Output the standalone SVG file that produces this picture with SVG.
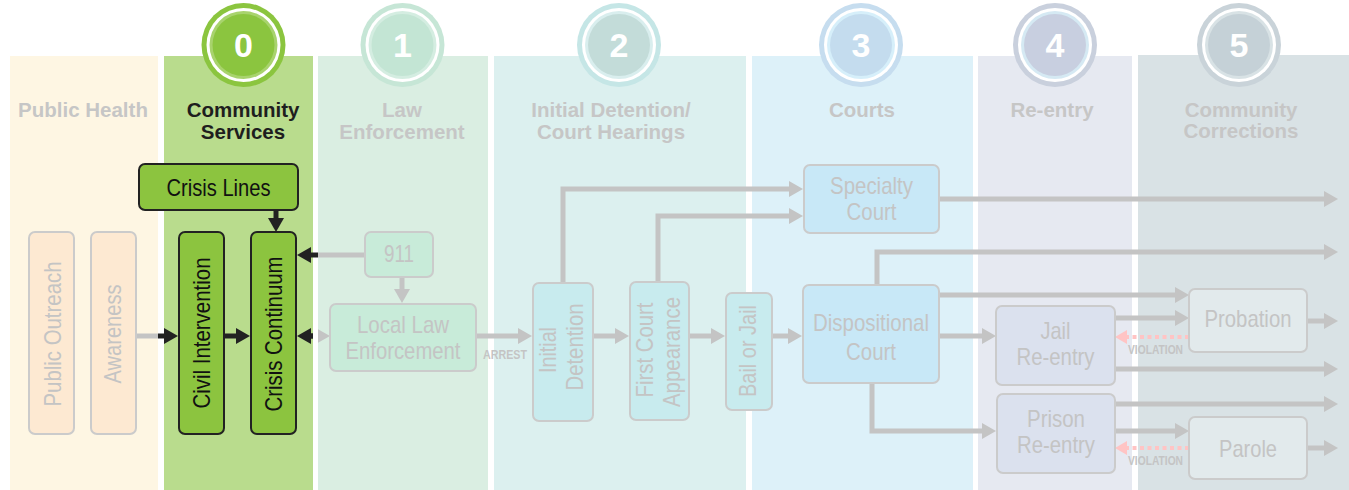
<svg xmlns="http://www.w3.org/2000/svg" width="1349" height="490" viewBox="0 0 1349 490">
<style>
.hdr{font-family:'Liberation Sans',Arial,sans-serif;font-weight:bold;font-size:20.5px;fill:#c6c6c6;text-anchor:middle}
.hdr.on{fill:#1e1e1e}
.num{font-family:'Liberation Sans',Arial,sans-serif;font-weight:bold;font-size:34px;fill:#ffffff;text-anchor:middle}
.nt{font-family:'Liberation Sans',Arial,sans-serif;font-size:24px;fill:#c4c4c4;text-anchor:middle}
.nt.on{fill:#111111}
.lbl{font-family:'Liberation Sans',Arial,sans-serif;font-weight:bold;font-size:13px;fill:#c4c4c4}
.fade{stroke:#cbcbcb;stroke-width:2}
.act{fill:#8cc43f;stroke:#222222;stroke-width:2}
.c{fill:none;stroke:#c4c4c4;stroke-width:5}
.k{fill:none;stroke:#222222;stroke-width:5}
.v{fill:none;stroke:#ffc4c4;stroke-width:4;stroke-dasharray:4 3.5}
</style>
<defs>
<marker id="ag" markerUnits="userSpaceOnUse" markerWidth="14" markerHeight="16" refX="8" refY="8" orient="auto"><path d="M0,0 L14,8 L0,16 z" fill="#c4c4c4"/></marker>
<marker id="ak" markerUnits="userSpaceOnUse" markerWidth="14" markerHeight="16" refX="8" refY="8" orient="auto"><path d="M0,0 L14,8 L0,16 z" fill="#222222"/></marker>
<marker id="ap" markerUnits="userSpaceOnUse" markerWidth="12" markerHeight="14" refX="6" refY="7" orient="auto"><path d="M0,0 L12,7 L0,14 z" fill="#ffc4c4"/></marker>
<clipPath id="clipL"><rect x="0" y="0" width="313" height="490"/></clipPath>
<clipPath id="clipR"><rect x="318" y="0" width="1031" height="490"/></clipPath>
</defs>

<g id="panels">
<rect x="10" y="56" width="148" height="434" fill="#fef6e3"/>
<rect x="164" y="56" width="149" height="434" fill="#b9dc8d"/>
<rect x="318" y="56" width="170" height="434" fill="#daeee2"/>
<rect x="494" y="56" width="252" height="434" fill="#dcf0ef"/>
<rect x="752" y="56" width="221" height="434" fill="#ddf1f9"/>
<rect x="978" y="56" width="154" height="434" fill="#e6e9f1"/>
<rect x="1138" y="55" width="211" height="435" fill="#d9e2e5"/>
</g>

<g id="badges">
<g id="badge0"><circle cx="243.5" cy="45" r="42" fill="#8bc53f"/><circle cx="243.5" cy="45" r="37" fill="#ffffff"/><circle cx="243.5" cy="45" r="34" fill="#a8d36d"/><circle cx="243.5" cy="45" r="31" fill="#8bc53f"/><text class="num" x="243.5" y="57">0</text></g>
<g id="badge1"><circle cx="402.5" cy="45" r="42" fill="#c6e6d6"/><circle cx="402.5" cy="45" r="37" fill="#ffffff"/><circle cx="402.5" cy="45" r="34" fill="#d4ede1"/><circle cx="402.5" cy="45" r="31" fill="#c3e5d4"/><text class="num" x="402.5" y="57">1</text></g>
<g id="badge2"><circle cx="619" cy="45" r="42" fill="#c5e6e6"/><circle cx="619" cy="45" r="37" fill="#ffffff"/><circle cx="619" cy="45" r="34" fill="#d9eeee"/><circle cx="619" cy="45" r="31" fill="#c3dcd9"/><text class="num" x="619" y="57">2</text></g>
<g id="badge3"><circle cx="861" cy="45" r="42" fill="#c6ddef"/><circle cx="861" cy="45" r="37" fill="#ffffff"/><circle cx="861" cy="45" r="34" fill="#d6effa"/><circle cx="861" cy="45" r="31" fill="#c4dcee"/><text class="num" x="861" y="57">3</text></g>
<g id="badge4"><circle cx="1055" cy="45" r="42" fill="#c9d0dd"/><circle cx="1055" cy="45" r="37" fill="#ffffff"/><circle cx="1055" cy="45" r="34" fill="#d5e9f3"/><circle cx="1055" cy="45" r="31" fill="#c8cfe0"/><text class="num" x="1055" y="57">4</text></g>
<g id="badge5"><circle cx="1239" cy="45" r="42" fill="#c9d3d9"/><circle cx="1239" cy="45" r="37" fill="#ffffff"/><circle cx="1239" cy="45" r="34" fill="#d8e2e5"/><circle cx="1239" cy="45" r="31" fill="#c5d1d7"/><text class="num" x="1239" y="57">5</text></g>
</g>

<g id="headers">
<text class="hdr" x="83" y="117">Public Health</text>
<text class="hdr on" x="243" y="117">Community</text>
<text class="hdr on" x="243" y="139">Services</text>
<text class="hdr" x="402" y="117">Law</text>
<text class="hdr" x="402" y="139">Enforcement</text>
<text class="hdr" x="611" y="117">Initial Detention/</text>
<text class="hdr" x="611" y="139">Court Hearings</text>
<text class="hdr" x="862" y="117">Courts</text>
<text class="hdr" x="1052" y="117">Re-entry</text>
<text class="hdr" x="1241" y="117">Community</text>
<text class="hdr" x="1241" y="138">Corrections</text>
</g>

<g id="connectors">
<path class="c" d="M365,255 H318"/>
<path class="k" d="M318,255 H303" marker-end="url(#ak)"/>
<path class="c" d="M402,277 V297" marker-end="url(#ag)"/>
<path class="c" d="M136,336 H158"/>
<path class="k" d="M158,336 H172" marker-end="url(#ak)"/>
<path class="k" d="M224,336 H244" marker-end="url(#ak)"/>
<path class="k" d="M276,210 V226" marker-end="url(#ak)"/>
<g clip-path="url(#clipL)"><path class="k" d="M313,336 H303" marker-end="url(#ak)"/><path class="k" d="M311,336 H324" marker-end="url(#ak)"/></g>
<g clip-path="url(#clipR)"><path class="c" d="M311,336 H324" marker-end="url(#ag)"/></g>
<path class="c" d="M476,336 H526" marker-end="url(#ag)"/>
<path class="c" d="M593,336 H623" marker-end="url(#ag)"/>
<path class="c" d="M689,336 H719" marker-end="url(#ag)"/>
<path class="c" d="M772,336 H796" marker-end="url(#ag)"/>
<path class="c" d="M563,283 V189 H797" marker-end="url(#ag)"/>
<path class="c" d="M658,282 V216 H797" marker-end="url(#ag)"/>
<path class="c" d="M939,199 H1332" marker-end="url(#ag)"/>
<path class="c" d="M877,285 V252 H1332" marker-end="url(#ag)"/>
<path class="c" d="M939,295 H1183" marker-end="url(#ag)"/>
<path class="c" d="M939,336 H990" marker-end="url(#ag)"/>
<path class="c" d="M872,383 V431 H990" marker-end="url(#ag)"/>
<path class="c" d="M1115,318 H1183" marker-end="url(#ag)"/>
<path class="c" d="M1115,369 H1332" marker-end="url(#ag)"/>
<path class="c" d="M1307,321 H1332" marker-end="url(#ag)"/>
<path class="c" d="M1115,404 H1332" marker-end="url(#ag)"/>
<path class="c" d="M1115,431 H1183" marker-end="url(#ag)"/>
<path class="c" d="M1307,448 H1332" marker-end="url(#ag)"/>
<path class="v" d="M1189,337 H1121" marker-end="url(#ap)"/>
<path class="v" d="M1189,448 H1121" marker-end="url(#ap)"/>
<text class="lbl" x="483" y="359" textLength="44" lengthAdjust="spacingAndGlyphs">ARREST</text>
<text class="lbl" x="1128" y="354" textLength="55" lengthAdjust="spacingAndGlyphs">VIOLATION</text>
<text class="lbl" x="1128" y="465" textLength="55" lengthAdjust="spacingAndGlyphs">VIOLATION</text>
</g>

<g id="public-outreach"><rect class="fade" x="29" y="232" width="45" height="202" rx="6" fill="#fde9d2"/><text class="nt" transform="translate(61,334) rotate(-90)" textLength="145" lengthAdjust="spacingAndGlyphs">Public Outreach</text></g>
<g id="awareness"><rect class="fade" x="91" y="232" width="45" height="202" rx="6" fill="#fde9d2"/><text class="nt" transform="translate(121,334) rotate(-90)" textLength="99" lengthAdjust="spacingAndGlyphs">Awareness</text></g>
<g id="crisis-lines"><rect class="act" x="139" y="164" width="159" height="46" rx="6"/><text class="nt on" x="218.5" y="196" textLength="104" lengthAdjust="spacingAndGlyphs">Crisis Lines</text></g>
<g id="civil-intervention"><rect class="act" x="179" y="232" width="45" height="202" rx="6"/><text class="nt on" transform="translate(210,333) rotate(-90)" textLength="151" lengthAdjust="spacingAndGlyphs">Civil Intervention</text></g>
<g id="crisis-continuum"><rect class="act" x="251" y="232" width="45" height="202" rx="6"/><text class="nt on" transform="translate(282,334) rotate(-90)" textLength="155" lengthAdjust="spacingAndGlyphs">Crisis Continuum</text></g>
<g id="n911"><rect class="fade" x="365" y="232" width="68" height="45" rx="6" fill="#c8ebd9"/><text class="nt" x="399" y="262" textLength="30" lengthAdjust="spacingAndGlyphs">911</text></g>
<g id="local-law"><rect class="fade" x="330" y="304" width="146" height="67" rx="6" fill="#c8ebd9"/><text class="nt" x="403" y="333" textLength="92" lengthAdjust="spacingAndGlyphs">Local Law</text><text class="nt" x="403" y="359" textLength="115" lengthAdjust="spacingAndGlyphs">Enforcement</text></g>
<g id="initial-detention"><rect class="fade" x="533" y="283" width="60" height="138" rx="6" fill="#c8ebee"/><text class="nt" transform="translate(556,350) rotate(-90)" textLength="46" lengthAdjust="spacingAndGlyphs">Initial</text><text class="nt" transform="translate(583,347) rotate(-90)" textLength="87" lengthAdjust="spacingAndGlyphs">Detention</text></g>
<g id="first-court"><rect class="fade" x="630" y="282" width="59" height="138" rx="6" fill="#c8ebee"/><text class="nt" transform="translate(653,350) rotate(-90)" textLength="95" lengthAdjust="spacingAndGlyphs">First Court</text><text class="nt" transform="translate(680,352) rotate(-90)" textLength="110" lengthAdjust="spacingAndGlyphs">Appearance</text></g>
<g id="bail-jail"><rect class="fade" x="726" y="293" width="46" height="117" rx="6" fill="#c8ebee"/><text class="nt" transform="translate(756,351) rotate(-90)" textLength="92" lengthAdjust="spacingAndGlyphs">Bail or Jail</text></g>
<g id="specialty-court"><rect class="fade" x="804" y="165" width="135" height="68" rx="6" fill="#c8e8f7"/><text class="nt" x="871.5" y="194" textLength="83" lengthAdjust="spacingAndGlyphs">Specialty</text><text class="nt" x="871.5" y="220" textLength="50" lengthAdjust="spacingAndGlyphs">Court</text></g>
<g id="dispositional-court"><rect class="fade" x="803" y="285" width="136" height="98" rx="6" fill="#c8e8f7"/><text class="nt" x="871" y="331" textLength="116" lengthAdjust="spacingAndGlyphs">Dispositional</text><text class="nt" x="871" y="360" textLength="50" lengthAdjust="spacingAndGlyphs">Court</text></g>
<g id="jail-reentry"><rect class="fade" x="996" y="306" width="119" height="79" rx="6" fill="#dbe1ee"/><text class="nt" x="1055.5" y="339" textLength="30" lengthAdjust="spacingAndGlyphs">Jail</text><text class="nt" x="1055.5" y="365" textLength="78" lengthAdjust="spacingAndGlyphs">Re-entry</text></g>
<g id="prison-reentry"><rect class="fade" x="997" y="394" width="118" height="79" rx="6" fill="#dbe1ee"/><text class="nt" x="1056" y="427" textLength="58" lengthAdjust="spacingAndGlyphs">Prison</text><text class="nt" x="1056" y="453" textLength="78" lengthAdjust="spacingAndGlyphs">Re-entry</text></g>
<g id="probation"><rect class="fade" x="1189" y="289" width="118" height="63" rx="6" fill="#e2eaec"/><text class="nt" x="1248" y="327" textLength="87" lengthAdjust="spacingAndGlyphs">Probation</text></g>
<g id="parole"><rect class="fade" x="1189" y="417" width="118" height="62" rx="6" fill="#e2eaec"/><text class="nt" x="1248" y="457" textLength="58" lengthAdjust="spacingAndGlyphs">Parole</text></g>
</svg>
